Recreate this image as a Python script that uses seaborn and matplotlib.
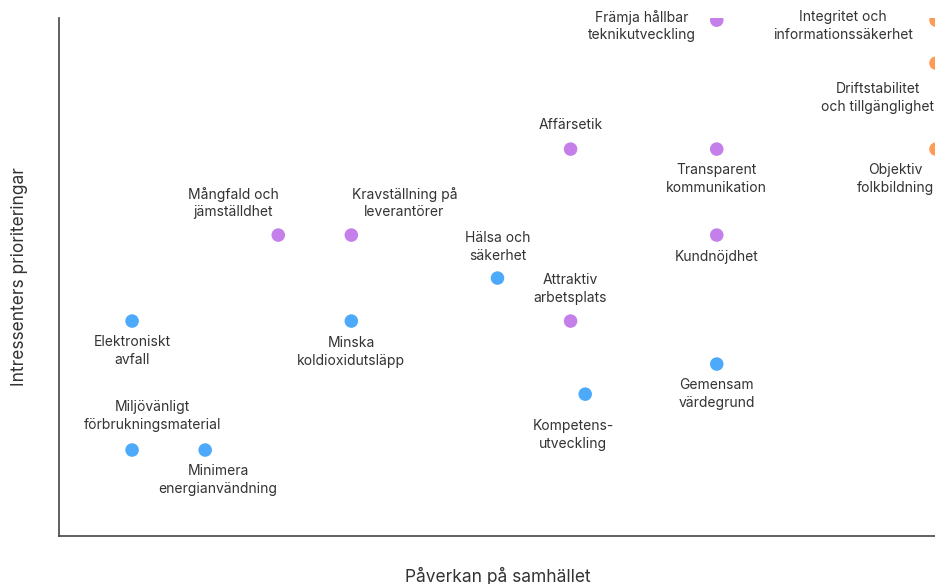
import pandas as pd
import matplotlib
matplotlib.use("Agg")
import matplotlib.pyplot as plt
import seaborn as sns

# Materiality matrix data
topics = [
    "Elektroniskt\navfall",
    "Miljövänligt\nförbrukningsmaterial",
    "Minimera\nenergianvändning",
    "Mångfald och\njämställdhet",
    "Kravställning på\nleverantörer",
    "Minska\nkoldioxidutsläpp",
    "Hälsa och\nsäkerhet",
    "Attraktiv\narbetsplats",
    "Affärsetik",
    "Kompetens-\nutveckling",
    "Gemensam\nvärdegrund",
    "Kundnöjdhet",
    "Transparent\nkommunikation",
    "Främja hållbar\nteknikutveckling",
    "Integritet och\ninformationssäkerhet",
    "Driftstabilitet\noch tillgänglighet",
    "Objektiv\nfolkbildning",
]
impact = [1, 1, 2, 3, 4, 4, 6, 7, 7, 7.2, 9, 9, 9, 9, 12, 12, 12]
priority = [5, 2, 2, 7, 7, 5, 6, 5, 9, 3.3, 4, 7, 9, 12, 12, 11, 9]
group = ["miljo", "miljo", "miljo", "social", "social", "miljo", "miljo",
         "social", "social", "miljo", "miljo", "social", "social", "social",
         "bolag", "bolag", "bolag"]

palette = {"miljo": "#4DAAFA", "social": "#C47FEA", "bolag": "#FF9A55"}

# label placement: (dx, dy) in pixels, horizontal alignment
label_pos = [
    (0, -30, "center"), (20, 34, "center"), (13, -30, "center"),
    (-45, 32, "center"), (53, 32, "center"), (0, -31, "center"),
    (0, 31, "center"), (0, 32, "center"), (0, 24, "center"),
    (-12, -41, "center"), (0, -30, "center"), (0, -22, "center"),
    (0, -30, "center"), (-21, -6, "right"), (-23, -6, "right"),
    (-2, -35, "right"), (-2, -30, "right"),
]

df = pd.DataFrame({"topic": topics, "x": impact, "y": priority, "group": group})

sns.set_style("white")
plt.rcParams["font.family"] = ["Inter", "DejaVu Sans"]

fig = plt.figure(figsize=(9.35, 5.84), dpi=100)
ax = fig.add_axes([59 / 935, 48 / 584, 877 / 935, 518 / 584])

sns.scatterplot(data=df, x="x", y="y", hue="group", palette=palette,
                s=95, linewidth=0, legend=False, ax=ax, zorder=3)

for (t, x, y), (dx, dy, ha) in zip(zip(topics, impact, priority), label_pos):
    ax.annotate(t, (x, y), xytext=(dx, dy), textcoords="offset pixels",
                ha=ha, va="center", multialignment="center",
                fontsize=10, color="#333333", linespacing=1.3)

ax.set_xlim(0, 12)
ax.set_ylim(0, 12.05)
ax.set_xticks([])
ax.set_yticks([])
for side in ["top", "right"]:
    ax.spines[side].set_visible(False)
for side in ["left", "bottom"]:
    ax.spines[side].set_color("#444444")
    ax.spines[side].set_linewidth(1.2)

ax.set_xlabel("Påverkan på samhället", fontsize=12.5, color="#333333", labelpad=22)
ax.set_ylabel("Intressenters prioriteringar", fontsize=12.5, color="#333333", labelpad=22)

fig.savefig("out.png", dpi=100)
